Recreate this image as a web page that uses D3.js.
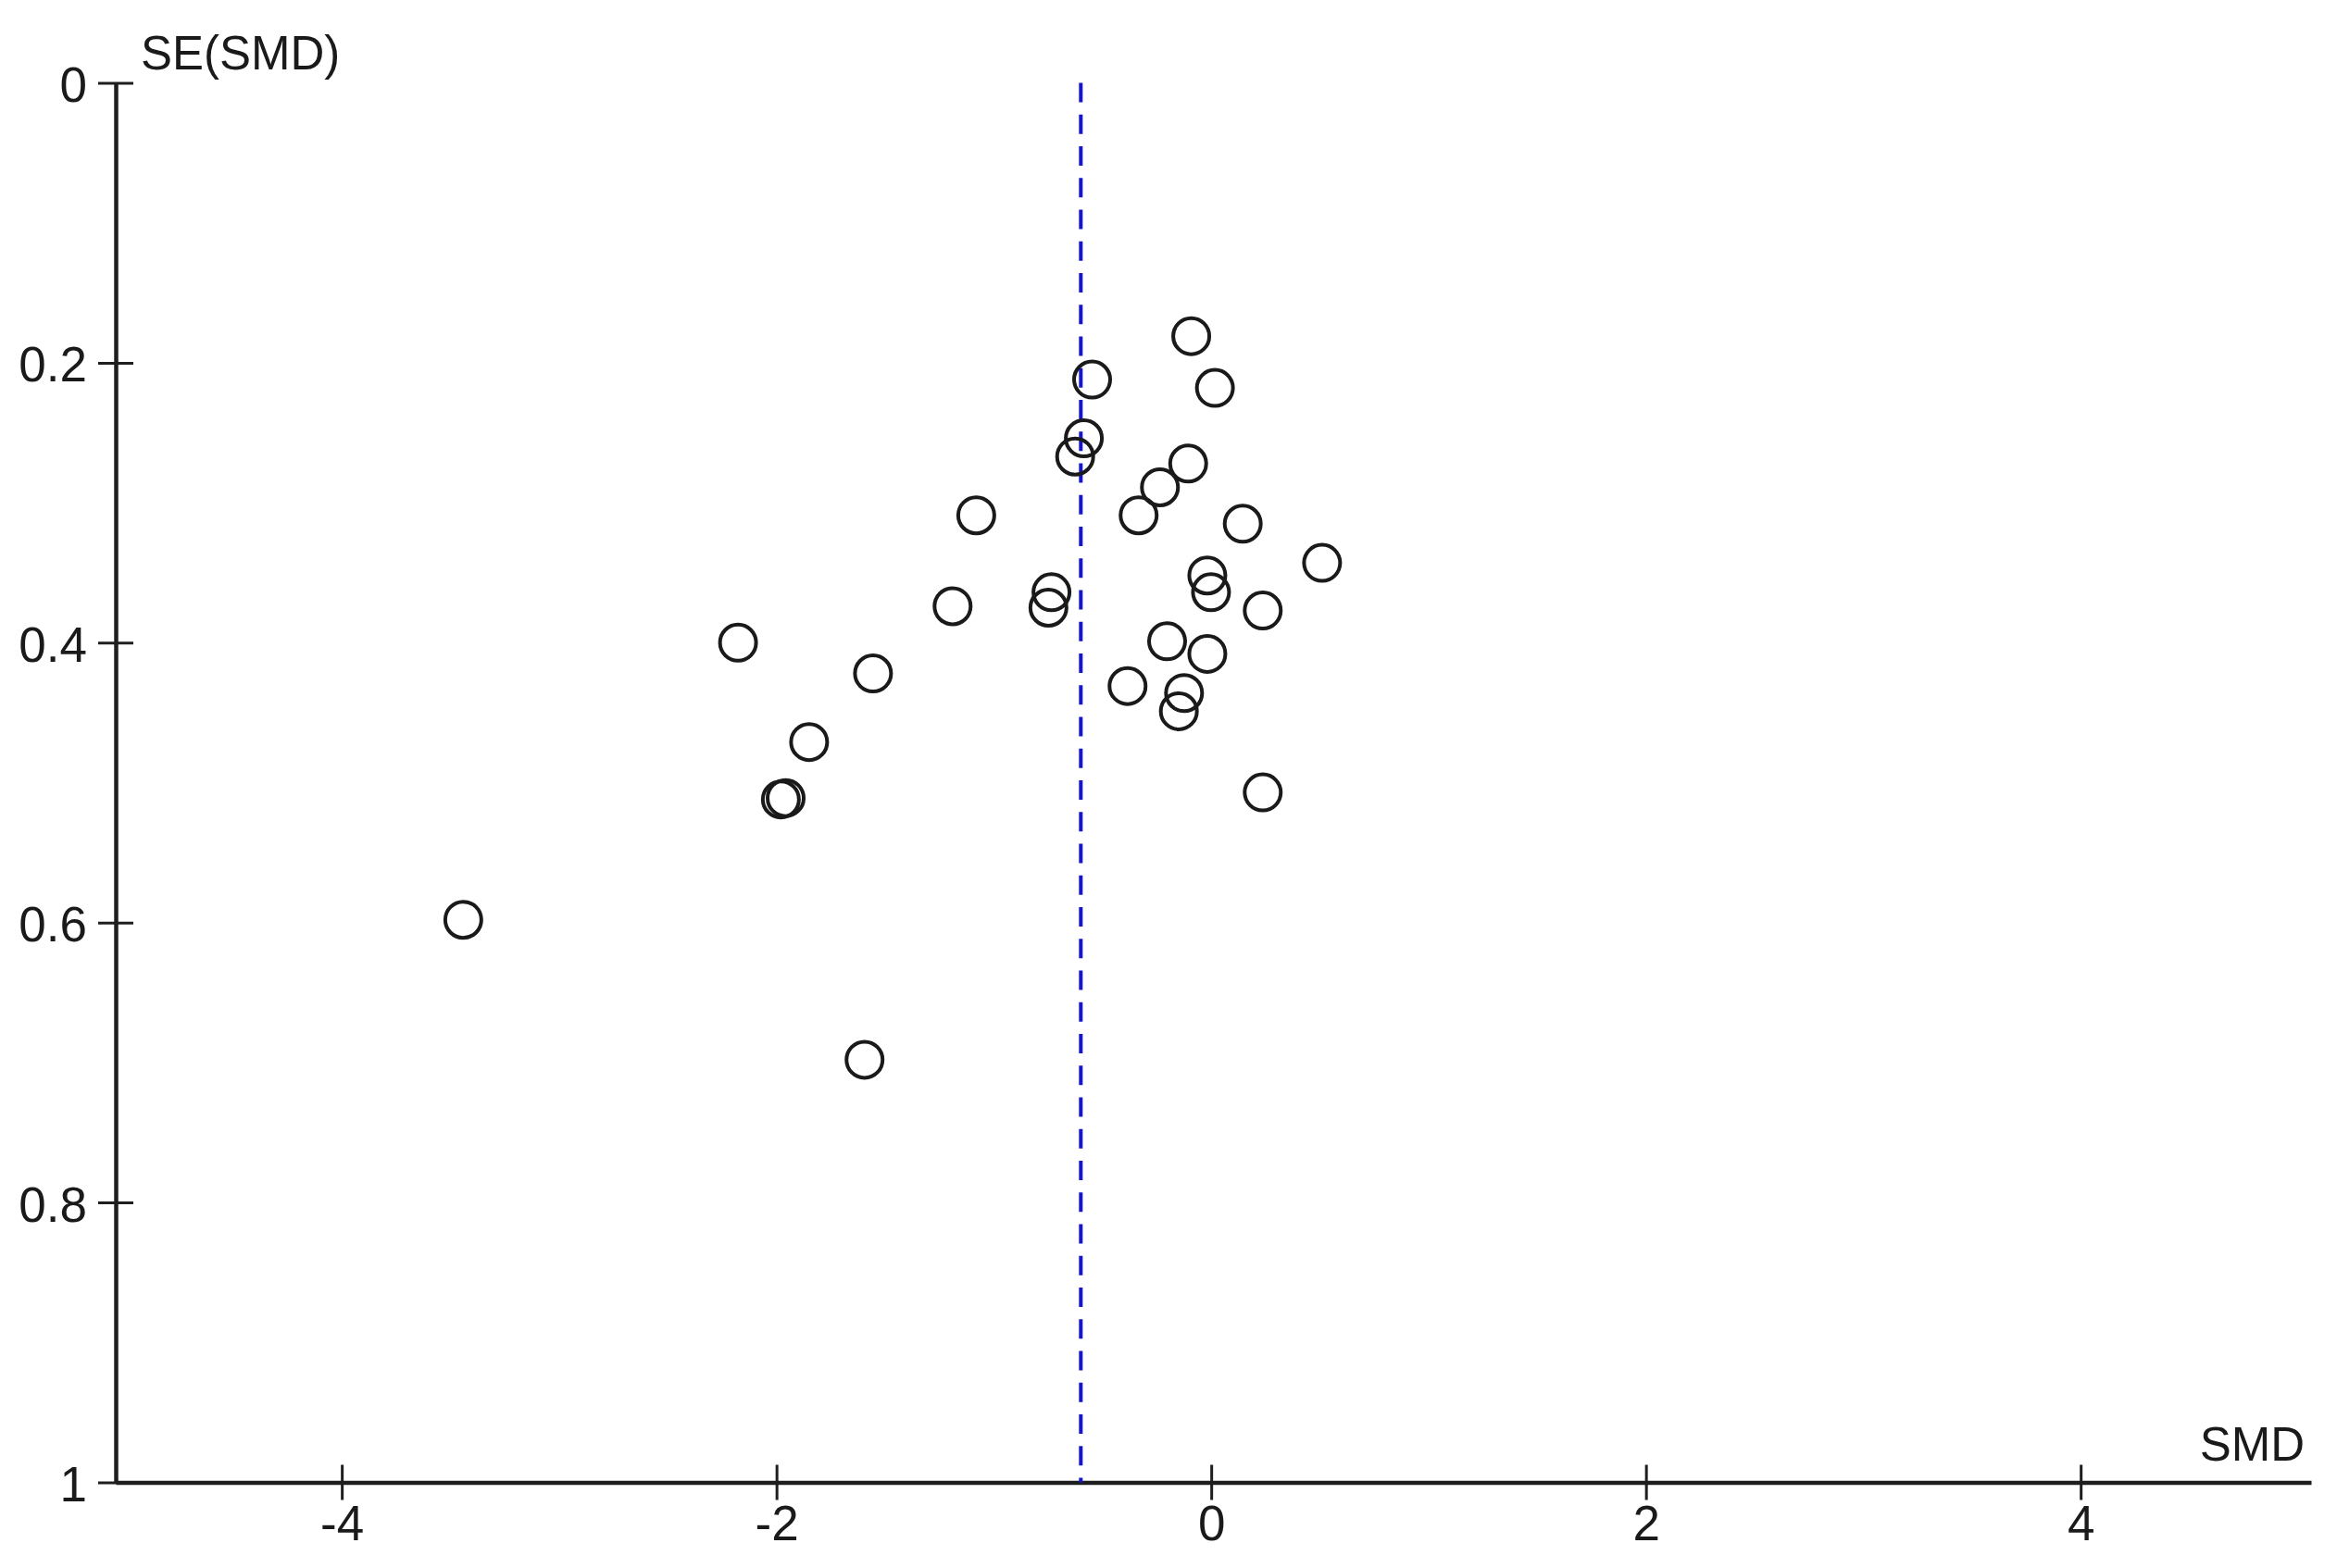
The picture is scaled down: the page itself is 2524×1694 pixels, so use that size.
<!DOCTYPE html>
<html>
<head>
<meta charset="utf-8">
<script src="https://cdn.jsdelivr.net/npm/d3@7"></script>
<style>
  html, body { margin: 0; padding: 0; background: #ffffff; }
  svg { display: block; }
  text { font-family: "Liberation Sans", Arial, sans-serif; fill: #1a1a1a; }
</style>
</head>
<body>
<svg id="chart" width="2524" height="1694"></svg>
<script>
// ---- data ----
const smd = [
  -2.177, -1.556, -1.850, -1.980, -1.958, -3.441, -1.595,
  -0.092, -0.548, 0.017, -0.586, -0.626, -0.106, -0.236, -0.334, -1.081, 0.145, 0.510,
  -1.190, -0.735, -0.749, -0.018, -0.001, 0.237, -0.203, -0.018, -0.385, -0.125, -0.149, 0.237
];
const seSmd = [
  0.400, 0.422, 0.471, 0.512, 0.511, 0.598, 0.698,
  0.181, 0.212, 0.218, 0.254, 0.267, 0.272, 0.289, 0.309, 0.309, 0.315, 0.343,
  0.374, 0.364, 0.375, 0.352, 0.364, 0.377, 0.399, 0.408, 0.431, 0.436, 0.449, 0.507
];
const pooledSmd = [-0.60];
const xTicks = [-4, -2, 0, 2, 4];
const yTicks = [0, 0.2, 0.4, 0.6, 0.8, 1];
const xTitle = "SMD";
const yTitle = "SE(SMD)";

// ---- scales ----
const svg = d3.select("#chart");
const x = d3.scaleLinear().domain([-5.04, 5.06]).range([125, 2496]);
const y = d3.scaleLinear().domain([0, 1]).range([89.5, 1601.5]);

const axisColor = "#1e1e1e";
const fontSize = 53;

// ---- y axis ----
const yAxisG = svg.append("g")
  .attr("transform", `translate(${x.range()[0]},0)`)
  .call(d3.axisLeft(y).tickValues(yTicks).tickFormat(d => String(d)).tickSizeOuter(0).tickSizeInner(19));
yAxisG.select(".domain").attr("stroke", axisColor).attr("stroke-width", 4.5);
yAxisG.selectAll(".tick line").attr("x1", 19).attr("x2", -19).attr("stroke", axisColor).attr("stroke-width", 3);
yAxisG.selectAll(".tick text")
  .attr("x", -31).attr("dy", null).attr("y", 20)
  .attr("text-anchor", "end")
  .style("font-size", fontSize + "px")
  .style("font-family", "'Liberation Sans', Arial, sans-serif")
  .attr("fill", "#1a1a1a");

// ---- x axis ----
const xAxisG = svg.append("g")
  .attr("transform", `translate(0,${y(1)})`)
  .call(d3.axisBottom(x).tickValues(xTicks).tickFormat(d => d < 0 ? "-" + Math.abs(d) : String(d)).tickSizeOuter(0).tickSizeInner(19));
xAxisG.select(".domain").attr("stroke", axisColor).attr("stroke-width", 4.5);
xAxisG.selectAll(".tick line").attr("y1", -19).attr("y2", 19).attr("stroke", axisColor).attr("stroke-width", 3);
xAxisG.selectAll(".tick text")
  .attr("y", 62).attr("dy", null)
  .attr("text-anchor", "middle")
  .style("font-size", fontSize + "px")
  .style("font-family", "'Liberation Sans', Arial, sans-serif")
  .attr("fill", "#1a1a1a");

// ---- axis titles ----
svg.append("text")
  .attr("x", 152).attr("y", 75)
  .attr("text-anchor", "start")
  .style("font-size", "51px")
  .text(yTitle);
svg.append("text")
  .attr("x", 2489).attr("y", 1578)
  .attr("text-anchor", "end")
  .style("font-size", "51px")
  .text(xTitle);

// ---- pooled estimate (dashed blue line) ----
svg.selectAll("line.pooled")
  .data(pooledSmd)
  .enter().append("line")
  .attr("class", "pooled")
  .attr("x1", d => x(d)).attr("x2", d => x(d))
  .attr("y1", y(0)).attr("y2", y(1))
  .attr("stroke", "#1414d2")
  .attr("stroke-width", 4)
  .attr("stroke-dasharray", "21,13.25");

// ---- study points ----
const pts = smd.map((v, i) => ({ smd: v, se: seSmd[i] }));
svg.selectAll("circle.study")
  .data(pts)
  .enter().append("circle")
  .attr("class", "study")
  .attr("cx", d => x(d.smd))
  .attr("cy", d => y(d.se))
  .attr("r", 19.5)
  .attr("fill", "none")
  .attr("stroke", "#1a1a1a")
  .attr("stroke-width", 4);
</script>
</body>
</html>
